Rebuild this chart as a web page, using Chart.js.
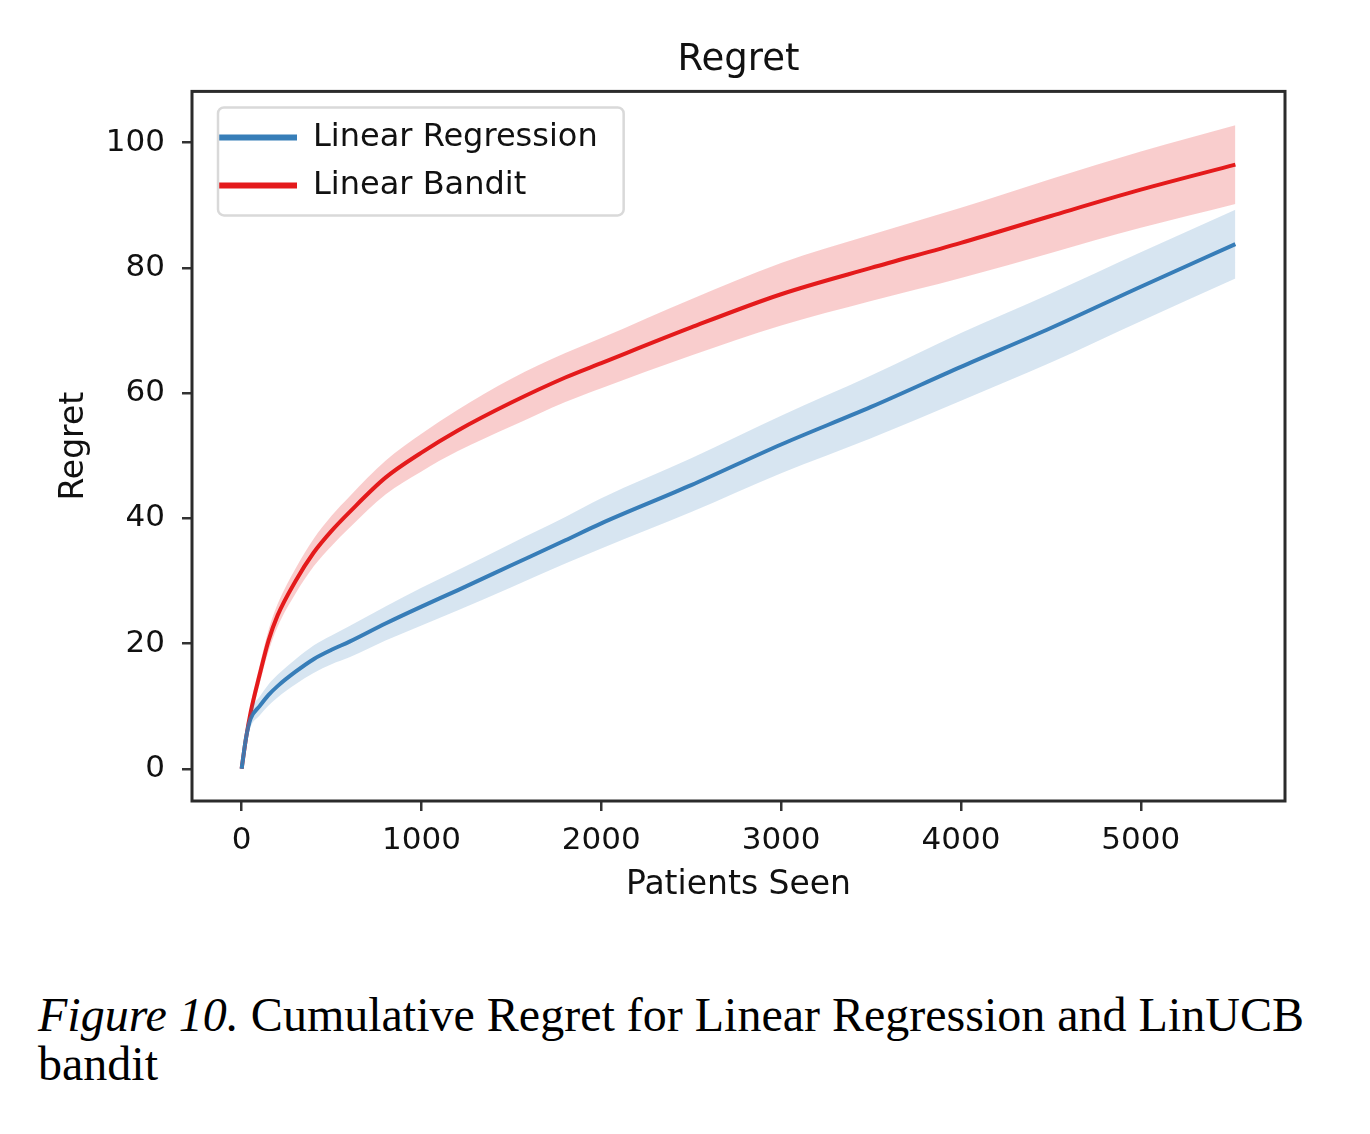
<!DOCTYPE html>
<html>
<head>
<meta charset="utf-8">
<title>Regret</title>
<script src="https://cdn.jsdelivr.net/npm/chart.js@4.4.1/dist/chart.umd.min.js"></script>
<style>
  body { margin: 0; background: #fff; }
  #wrap { position: relative; width: 1370px; height: 930px; }
  #caption {
    position: absolute; left: 38px; top: 990px;
    font-family: "Liberation Serif", "Times New Roman", serif;
    font-size: 48px; line-height: 49px; color: #000;
  }
</style>
</head>
<body>
<div id="wrap"><canvas id="regretChart"></canvas></div>
<div id="caption"><i>Figure 10.</i> Cumulative Regret for Linear Regression and LinUCB<br>bandit</div>
<script>
// values
const patients = [0, 25, 50, 100, 150, 200, 300, 400, 500, 600, 800, 1000, 1200, 1500, 1800, 2000, 2500, 3000, 3500, 4000, 4500, 5000, 5526];

const regressionMean  = [0, 5, 8, 10, 11.8, 13.2, 15.5, 17.5, 19, 20.3, 23.2, 25.9, 28.5, 32.5, 36.5, 39.2, 45.3, 51.8, 57.8, 64.2, 70.4, 77, 83.8];
const regressionUpper = [0.5, 6, 9.3, 11.5, 13.5, 15, 17.5, 19.7, 21.3, 22.8, 25.9, 28.9, 31.7, 36, 40.2, 43.2, 49.6, 56.4, 62.8, 69.6, 75.9, 82.5, 89.3];
const regressionLower = [0, 4, 6.7, 8.5, 10.1, 11.4, 13.5, 15.3, 16.7, 17.8, 20.5, 22.9, 25.3, 29, 32.8, 35.2, 41, 47.2, 52.8, 58.8, 64.9, 71.5, 78.3];

const banditMean  = [0, 5, 9, 15, 20.5, 24.5, 30, 34.5, 38, 41, 46.5, 50.5, 54, 58.5, 62.5, 64.8, 70.5, 75.8, 80, 84, 88.3, 92.5, 96.5];
const banditUpper = [0.5, 6, 10.3, 16.5, 22.2, 26.3, 32, 36.7, 40.4, 43.5, 49.2, 53.5, 57.3, 62.3, 66.4, 68.8, 75, 80.8, 85.3, 89.6, 94.2, 98.6, 102.8];
const banditLower = [0, 4, 7.7, 13.5, 18.8, 22.7, 28, 32.3, 35.6, 38.5, 43.8, 47.5, 50.7, 54.7, 58.6, 60.8, 66, 70.8, 74.7, 78.4, 82.4, 86.4, 90.2];

const xTicks = [0, 1000, 2000, 3000, 4000, 5000];
const yTicks = [0, 20, 40, 60, 80, 100];

const BLUE = "#377eb8";
const RED = "#e41a1c";
const FONT = "DejaVu Sans";
const TEXT = "#111";

function pts(values) {
  return patients.map((x, i) => ({ x: x, y: values[i] }));
}

function band(values, fill, color) {
  return {
    data: pts(values),
    borderWidth: 0,
    pointRadius: 0,
    fill: fill,
    backgroundColor: color,
    cubicInterpolationMode: "monotone",
    isBand: true
  };
}

// box around the plot + frame around the legend, like matplotlib
const framePlugin = {
  id: "frame",
  afterLayout(chart) {
    // title centred over the plot, not the whole canvas
    chart.titleBlock.left = chart.chartArea.left;
    chart.titleBlock.right = chart.chartArea.right;
    // legend in "chartArea" keeps top = 0, move it into the plot
    const lg = chart.legend;
    const dx = 9;
    const dy = chart.chartArea.top - lg.top;
    lg.left += dx;
    lg.right += dx;
    lg.top += dy;
    lg.bottom += dy;
    lg.legendHitBoxes.forEach(h => { h.left += dx; h.top += dy; });
  },
  afterDraw(chart) {
    const ctx = chart.ctx;
    const a = chart.chartArea;
    ctx.save();
    ctx.strokeStyle = "#2b2b2b";
    ctx.lineWidth = 3;
    ctx.strokeRect(a.left, a.top, a.right - a.left, a.bottom - a.top);

    const hb = chart.legend.legendHitBoxes;
    const l = Math.min(...hb.map(h => h.left)) - 8;
    const t = Math.min(...hb.map(h => h.top)) - 14;
    const r = Math.max(...hb.map(h => h.left + h.width)) + 17;
    const b = Math.max(...hb.map(h => h.top + h.height)) + 14;
    ctx.strokeStyle = "#d9d9d9";
    ctx.lineWidth = 2.5;
    ctx.beginPath();
    ctx.roundRect(l, t, r - l, b - t, 6);
    ctx.stroke();
    ctx.restore();
  }
};

const ctx = document.getElementById("regretChart");
new Chart(ctx, {
  type: "line",
  data: {
    datasets: [
      band(regressionUpper, false, "transparent"),
      band(regressionLower, "-1", "rgba(55,126,184,0.2)"),
      band(banditUpper, false, "transparent"),
      band(banditLower, "-1", "rgba(228,26,28,0.22)"),
      {
        label: "Linear Regression",
        data: pts(regressionMean),
        borderColor: BLUE,
        borderWidth: 4,
        pointRadius: 0,
        fill: false,
        cubicInterpolationMode: "monotone"
      },
      {
        label: "Linear Bandit",
        data: pts(banditMean),
        borderColor: RED,
        borderWidth: 4,
        pointRadius: 0,
        fill: false,
        cubicInterpolationMode: "monotone"
      }
    ]
  },
  plugins: [framePlugin],
  options: {
    responsive: true,
    maintainAspectRatio: false,
    animation: false,
    layout: { padding: { left: 0, right: 85, top: 0, bottom: 0 } },
    plugins: {
      title: {
        display: true,
        text: "Regret",
        color: TEXT,
        font: { family: FONT, size: 37, weight: "normal" },
        padding: { top: 38, bottom: 9 }
      },
      legend: {
        position: "chartArea",
        align: "start",
        title: { display: true, text: " ", font: { size: 10 }, padding: { top: 2, bottom: 0 } },
        labels: {
          generateLabels(chart) {
            return chart.data.datasets
              .map((ds, i) => ({ ds, i }))
              .filter(o => !o.ds.isBand)
              .map(o => ({
                text: o.ds.label,
                fillStyle: o.ds.borderColor,
                strokeStyle: o.ds.borderColor,
                fontColor: TEXT,
                lineWidth: 0,
                hidden: false,
                datasetIndex: o.i
              }));
          },
          boxWidth: 80,
          boxHeight: 6,
          padding: 16,
          color: TEXT,
          font: { family: FONT, size: 32 }
        }
      },
      tooltip: { enabled: false }
    },
    scales: {
      x: {
        type: "linear",
        min: -276,
        max: 5802,
        afterBuildTicks: s => { s.ticks = xTicks.map(v => ({ value: v })); },
        afterFit: s => { s.height = 129; },
        border: { display: false },
        grid: { drawOnChartArea: false, drawTicks: true, tickLength: 10, tickColor: "#333", lineWidth: 2.5 },
        ticks: {
          padding: 11, color: TEXT, font: { family: FONT, size: 31 }, maxRotation: 0,
          callback: v => String(v)
        },
        title: {
          display: true,
          text: "Patients Seen",
          color: TEXT,
          font: { family: FONT, size: 33 },
          padding: { top: 0, bottom: 25 }
        }
      },
      y: {
        type: "linear",
        min: -5.15,
        max: 108.2,
        afterBuildTicks: s => { s.ticks = yTicks.map(v => ({ value: v })); },
        afterFit: s => { s.width = 192; },
        border: { display: false },
        grid: { drawOnChartArea: false, drawTicks: true, tickLength: 10, tickColor: "#333", lineWidth: 2.5 },
        ticks: { padding: 17, color: TEXT, font: { family: FONT, size: 31 }, callback: v => String(v) },
        title: {
          display: true,
          text: "Regret",
          color: TEXT,
          font: { family: FONT, size: 33 },
          padding: { top: 55, bottom: 0 }
        }
      }
    }
  }
});
</script>
</body>
</html>
